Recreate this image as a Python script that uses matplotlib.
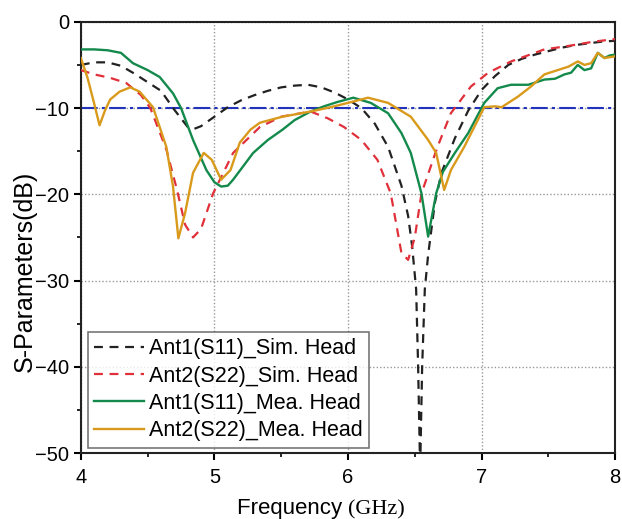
import matplotlib
matplotlib.use("Agg")
import matplotlib.pyplot as plt
import numpy as np

plt.rcParams['font.family'] = ['Liberation Sans', 'DejaVu Sans']

# Ant1(S11) simulated
f_sim1 = [4.0, 4.1, 4.2, 4.3, 4.4, 4.5, 4.6, 4.7, 4.8, 4.85, 4.9, 5.0, 5.1, 5.2, 5.3, 5.4, 5.5, 5.6, 5.7,
          5.8, 5.9, 6.0, 6.1, 6.2, 6.3, 6.4, 6.45, 6.48, 6.51, 6.525, 6.54, 6.555, 6.575, 6.6, 6.65, 6.7,
          6.8, 6.9, 7.0, 7.1, 7.2, 7.3, 7.4, 7.5, 7.6, 7.7, 7.8, 7.9, 8.0]
s_sim1 = [-5.0, -4.7, -4.7, -5.1, -6.0, -7.0, -8.0, -10.2, -12.2, -12.4, -12.1, -11.0, -9.9, -9.1, -8.5, -8.0,
          -7.6, -7.4, -7.3, -7.6, -8.2, -9.0, -10.0, -11.8, -14.5, -19.0, -22.5, -26.0, -31.0, -40.0, -52.0,
          -40.0, -31.0, -27.0, -21.0, -17.5, -13.5, -10.3, -7.9, -6.3, -5.0, -4.3, -3.8, -3.4, -3.0, -2.7,
          -2.5, -2.3, -2.2]

# Ant2(S22) simulated
f_sim2 = [4.0, 4.1, 4.22, 4.34, 4.45, 4.52, 4.64, 4.72, 4.78, 4.84, 4.9, 4.99, 5.14, 5.34, 5.5, 5.72, 5.85,
          5.97, 6.1, 6.22, 6.32, 6.4, 6.45, 6.5, 6.55, 6.67, 6.77, 6.92, 7.05, 7.22, 7.47, 7.65, 7.84, 8.0]
s_sim2 = [-5.6, -6.1, -6.5, -7.1, -8.5, -10.0, -14.8, -19.5, -23.5, -25.0, -24.0, -19.9, -15.2, -12.2, -11.0,
          -10.4, -11.2, -12.2, -13.7, -16.0, -19.9, -26.8, -27.6, -25.0, -19.9, -14.5, -10.6, -7.5, -5.9,
          -4.6, -3.2, -2.8, -2.3, -2.0]

# Ant1(S11) measured
f_mea1 = [4.0, 4.1, 4.2, 4.3, 4.39, 4.5, 4.59, 4.69, 4.75, 4.84, 4.94, 5.0, 5.05, 5.1, 5.14, 5.29, 5.4, 5.51,
          5.6, 5.72, 5.82, 5.92, 6.04, 6.17, 6.3, 6.4, 6.47, 6.55, 6.6, 6.66, 6.71, 6.8, 6.9, 7.02, 7.12,
          7.22, 7.35, 7.47, 7.55, 7.62, 7.67, 7.72, 7.77, 7.82, 7.87, 7.92, 7.96, 8.0]
s_mea1 = [-3.2, -3.2, -3.3, -3.6, -4.8, -5.6, -6.4, -8.3, -10.0, -13.7, -17.2, -18.6, -19.1, -19.0, -18.3,
          -15.2, -13.7, -12.5, -11.4, -10.4, -9.8, -9.3, -8.8, -9.4, -10.6, -12.9, -15.2, -19.9, -24.9,
          -19.9, -17.4, -15.2, -12.9, -9.4, -7.7, -7.3, -7.3, -6.7, -6.6, -6.1, -5.9, -5.0, -5.6, -5.4,
          -3.6, -4.2, -3.9, -3.8]

# Ant2(S22) measured
f_mea2 = [4.0, 4.05, 4.1, 4.14, 4.18, 4.22, 4.29, 4.37, 4.44, 4.54, 4.64, 4.69, 4.73, 4.78, 4.84, 4.92,
          4.98, 5.05, 5.12, 5.19, 5.27, 5.34, 5.51, 5.72, 5.87, 6.0, 6.15, 6.3, 6.47, 6.6, 6.66, 6.72,
          6.77, 6.87, 7.02, 7.1, 7.15, 7.27, 7.37, 7.47, 7.57, 7.65, 7.72, 7.77, 7.82, 7.87, 7.92, 8.0]
s_mea2 = [-4.2, -6.5, -9.5, -12.0, -10.3, -9.0, -8.1, -7.6, -8.1, -9.9, -14.5, -19.1, -25.1, -22.2,
          -17.5, -15.2, -16.0, -18.3, -17.2, -14.0, -12.5, -11.7, -11.0, -10.4, -9.9, -9.4, -8.8, -9.4,
          -11.0, -13.7, -15.2, -19.5, -17.2, -14.5, -9.9, -9.8, -9.9, -8.7, -7.5, -6.1, -5.6, -5.2, -4.6,
          -5.0, -4.8, -3.6, -4.2, -4.0]

labels = ["Ant1(S11)_Sim. Head", "Ant2(S22)_Sim. Head", "Ant1(S11)_Mea. Head", "Ant2(S22)_Mea. Head"]
xticks = [4, 5, 6, 7, 8]
yticks = [0, -10, -20, -30, -40, -50]
ref_level = -10

fig = plt.figure(figsize=(6.22, 5.19), dpi=100)
ax = fig.add_axes([0.130, 0.127, 0.859, 0.831])

ax.plot(f_sim1, s_sim1, color='#222222', ls=(0, (4, 3)), lw=1.6, label=labels[0], zorder=3)
ax.plot(f_sim2, s_sim2, color='#e0303a', ls=(0, (4, 3)), lw=1.6, label=labels[1], zorder=3)
ax.plot(f_mea1, s_mea1, color='#138a4c', ls='-', lw=1.7, label=labels[2], zorder=4)
ax.plot(f_mea2, s_mea2, color='#d99a1c', ls='-', lw=1.7, label=labels[3], zorder=4)
ax.axhline(ref_level, color='#2233bb', ls=(0, (8, 2, 1.5, 2)), lw=1.5, zorder=2)

ax.set_xlim(4, 8)
ax.set_ylim(-50, 0)
ax.set_xticks(xticks)
ax.set_yticks(yticks)
ax.set_xticks([4.5, 5.5, 6.5, 7.5], minor=True)
ax.set_yticks([-5, -15, -25, -35, -45], minor=True)
ax.tick_params(axis='both', which='major', direction='out', length=5, width=1.5, labelsize=14.5)
ax.tick_params(axis='x', which='major', pad=6)
ax.tick_params(axis='both', which='minor', direction='out', length=3, width=1.2)
ax.grid(True, which='major', color='#999999', ls=(0, (1, 1.5)), lw=1.0)
for s in ax.spines.values():
    s.set_linewidth(1.5)
    s.set_color('#222222')

fig.text(0.040, 0.478, 'S-Parameters(dB)', rotation=90, ha='center', va='center', fontsize=18)
fig.text(0.56, 0.0, 'Frequency ', ha='right', va='bottom', fontsize=16, family='Liberation Sans')
fig.text(0.56, 0.0, '(GHz)', ha='left', va='bottom', fontsize=16, family='Liberation Serif')

leg = ax.legend(loc='lower left', bbox_to_anchor=(0.013, 0.012), fontsize=15.5, frameon=True, fancybox=False,
                edgecolor='#555555', handlelength=2.3, handletextpad=0.25, borderpad=0.3, labelspacing=0.3,
                borderaxespad=0.0)
leg.get_frame().set_linewidth(1.2)

fig.savefig('out.png', dpi=100)
